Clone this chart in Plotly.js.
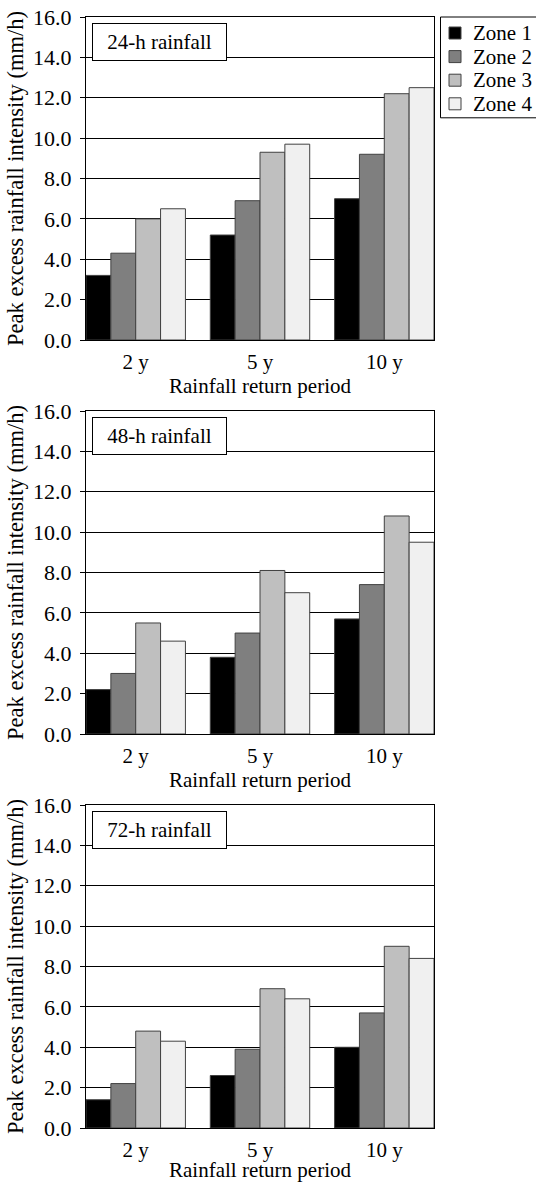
<!DOCTYPE html>
<html><head><meta charset="utf-8">
<script src="https://cdn.plot.ly/plotly-3.0.1.min.js"></script>
<style>html,body{margin:0;padding:0;background:#fff;}#chart{width:536px;height:1182px;}</style>
</head><body><div id="chart"></div>
<script>
// ---- data ----
const categories = ['2 y', '5 y', '10 y'];
const zoneNames = ['Zone 1', 'Zone 2', 'Zone 3', 'Zone 4'];
const zoneColors = ['#000000', '#7f7f7f', '#bfbfbf', '#f0f0f0'];
const panelLabels = ['24-h rainfall', '48-h rainfall', '72-h rainfall'];
const xAxisTitle = 'Rainfall return period';
const yAxisTitle = 'Peak excess rainfall intensity (mm/h)';

const h24Zone1 = [3.2, 5.2, 7.0];
const h24Zone2 = [4.3, 6.9, 9.2];
const h24Zone3 = [6.0, 9.3, 12.2];
const h24Zone4 = [6.5, 9.7, 12.5];

const h48Zone1 = [2.2, 3.8, 5.7];
const h48Zone2 = [3.0, 5.0, 7.4];
const h48Zone3 = [5.5, 8.1, 10.8];
const h48Zone4 = [4.6, 7.0, 9.5];

const h72Zone1 = [1.4, 2.6, 4.0];
const h72Zone2 = [2.2, 3.9, 5.7];
const h72Zone3 = [4.8, 6.9, 9.0];
const h72Zone4 = [4.3, 6.4, 8.4];

const panelSeries = [
  [h24Zone1, h24Zone2, h24Zone3, h24Zone4],
  [h48Zone1, h48Zone2, h48Zone3, h48Zone4],
  [h72Zone1, h72Zone2, h72Zone3, h72Zone4]
];

// ---- layout helpers ----
const W = 536, H = 1182;
const px = v => v / W;
const py = v => 1 - v / H;
const FONT = 'Liberation Serif';
const mkFont = (s) => ({family: FONT, size: s || 21, color: '#000'});

const plotLeft = 86, plotRight = 434;
const panelTops = [17, 411, 805];
const panelHeight = 323;

const traces = [];
const layout = {
  width: W, height: H,
  margin: {l: 0, r: 0, t: 0, b: 0, autoexpand: false},
  paper_bgcolor: '#fff', plot_bgcolor: '#fff',
  barmode: 'group', bargap: 0.2, bargroupgap: 0,
  showlegend: false,
  font: mkFont(),
  annotations: [],
  shapes: []
};

panelSeries.forEach((series, p) => {
  const sfx = p === 0 ? '' : String(p + 1);
  const xa = 'x' + sfx, ya = 'y' + sfx;
  series.forEach((vals, z) => {
    traces.push({
      type: 'bar', x: categories, y: vals, name: zoneNames[z],
      xaxis: xa, yaxis: ya,
      marker: {color: zoneColors[z], line: {color: '#404040', width: 1}},
      hoverinfo: 'skip'
    });
  });
  const top = panelTops[p], bot = top + panelHeight;
  layout['xaxis' + sfx] = {
    domain: [px(plotLeft), px(plotRight)], anchor: ya,
    type: 'category', range: [-0.4, 2.4],
    showline: true, mirror: true, linecolor: '#000', linewidth: 1,
    ticks: '', showgrid: false, zeroline: false,
    tickfont: mkFont(21), ticklabelstandoff: 3,
    title: {text: xAxisTitle, font: mkFont(21), standoff: 0},
    fixedrange: true
  };
  layout['yaxis' + sfx] = {
    domain: [py(bot), py(top)], anchor: xa,
    range: [0, 16], tick0: 0, dtick: 2, tickformat: '.1f',
    ticks: 'outside', ticklen: 5, tickcolor: '#000', tickwidth: 1,
    showgrid: true, gridcolor: '#000', gridwidth: 1,
    showline: true, mirror: true, linecolor: '#000', linewidth: 1,
    zeroline: false, tickfont: mkFont(22), ticklabelstandoff: 4,
    title: {text: yAxisTitle, font: mkFont(22.5), standoff: 3},
    fixedrange: true
  };
  layout.annotations.push({
    xref: 'paper', yref: 'paper', x: px(92), y: py(top + 6),
    xanchor: 'left', yanchor: 'top',
    text: panelLabels[p], showarrow: false, font: mkFont(21),
    width: 133, height: 36, align: 'center', valign: 'middle',
    bgcolor: '#fff', bordercolor: '#000', borderwidth: 1, borderpad: 0
  });
});

// legend (drawn as box, swatches and text)
const legLeft = 440.5, legTop = 17, legRowH = 23.6, legRow0 = 33;
layout.shapes.push({
  type: 'rect', xref: 'paper', yref: 'paper',
  x0: px(legLeft), x1: px(560), y0: py(legTop), y1: py(legRow0 + 3 * legRowH + 14),
  line: {color: '#000', width: 1}, fillcolor: '#fff', layer: 'above'
});
zoneNames.forEach((name, z) => {
  const cy = legRow0 + z * legRowH;
  layout.shapes.push({
    type: 'rect', xref: 'paper', yref: 'paper',
    x0: px(449), x1: px(461), y0: py(cy - 6), y1: py(cy + 6),
    line: {color: '#404040', width: 1}, fillcolor: zoneColors[z], layer: 'above'
  });
  layout.annotations.push({
    xref: 'paper', yref: 'paper', x: px(471), y: py(cy),
    xanchor: 'left', yanchor: 'middle', text: name, showarrow: false, font: mkFont(21)
  });
});

Plotly.newPlot('chart', traces, layout, {staticPlot: true, displayModeBar: false});
</script>
</body></html>
